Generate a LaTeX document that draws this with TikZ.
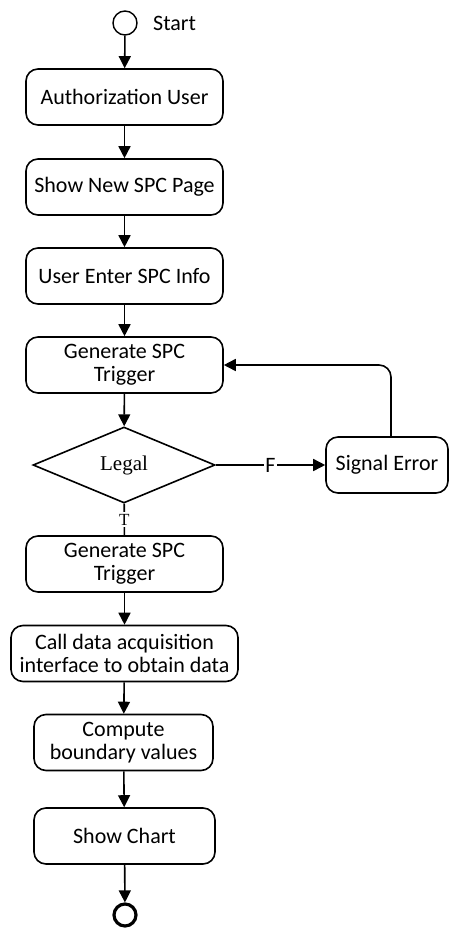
\documentclass[tikz,border=0pt]{standalone}
\usepackage{fontspec}
\setmainfont{Carlito}
\newfontfamily\legalface{Liberation Serif}
\usetikzlibrary{
    arrows.meta,
    shapes.geometric,
    positioning
}
\tikzset{
    act/.style={draw, rounded corners=12pt, line width=1.6pt, inner sep=0pt,
        minimum width=197pt, minimum height=56pt, align=center,
        font=\fontsize{22}{23}\selectfont},
    flow/.style={-{Triangle[width=12pt,length=12pt]}, line width=1.6pt},
    plain/.style={line width=1.6pt}
}

\begin{document}
\begin{tikzpicture}[x=1pt, y=-1pt]
    \useasboundingbox (0,0) rectangle (449,929);
    \node[circle, draw, line width=1.4pt, minimum size=24pt, inner sep=0pt] (start) at (125,23) {};
    \node[right=12pt of start, font=\fontsize{22}{23}\selectfont] (startlbl) {Start};
    \node[act] (auth) at (124.5,97) {Authorization User};
    \node[act] (shownew) at (124.5,187) {Show New SPC Page};
    \node[act] (enter) at (124.5,276) {User Enter SPC Info};
    \node[act] (gena) at (124.5,365) {Generate SPC\\Trigger};
    \node[draw, diamond, line width=1.6pt, inner sep=0pt, aspect=2.4,
        minimum width=182pt, minimum height=76pt,
        font=\legalface\fontsize{21}{23}\selectfont] (legal) at (124,465) {Legal};
    \node[act, minimum width=122pt] (signal) at (387,465) {Signal Error};
    \node[act] (genb) at (124.5,564) {Generate SPC\\Trigger};
    \node[act, minimum width=227pt] (call) at (124.5,653.5) {Call data acquisition\\interface to obtain data};
    \node[act, minimum width=179pt] (compute) at (123.5,742.5) {Compute\\boundary values};
    \node[act, minimum width=181pt] (chart) at (124.5,836) {Show Chart};
    \node[circle, draw, line width=3.2pt, minimum size=22pt, inner sep=0pt] (finish) at (125,915) {};

    \draw[flow] (start) -- (auth);
    \draw[flow] (auth) -- (shownew);
    \draw[flow] (shownew) -- (enter);
    \draw[flow] (enter) -- (gena);
    \draw[flow] (gena) -- (legal);
    \draw[flow] (legal) -- node[fill=white, inner sep=1pt, font=\fontsize{22}{23}\selectfont] {F} (signal);
    \draw[flow, rounded corners=12pt] ([xshift=4pt]signal.north) |- (gena.east);
    \draw[plain] (legal) -- node[fill=white, inner sep=2pt, font=\legalface\fontsize{17}{20}\selectfont] {T} (genb);
    \draw[flow] (genb) -- (call);
    \draw[flow] (call) -- (compute);
    \draw[flow] (compute) -- (chart);
    \draw[flow] (chart) -- (finish);
\end{tikzpicture}
\end{document}
